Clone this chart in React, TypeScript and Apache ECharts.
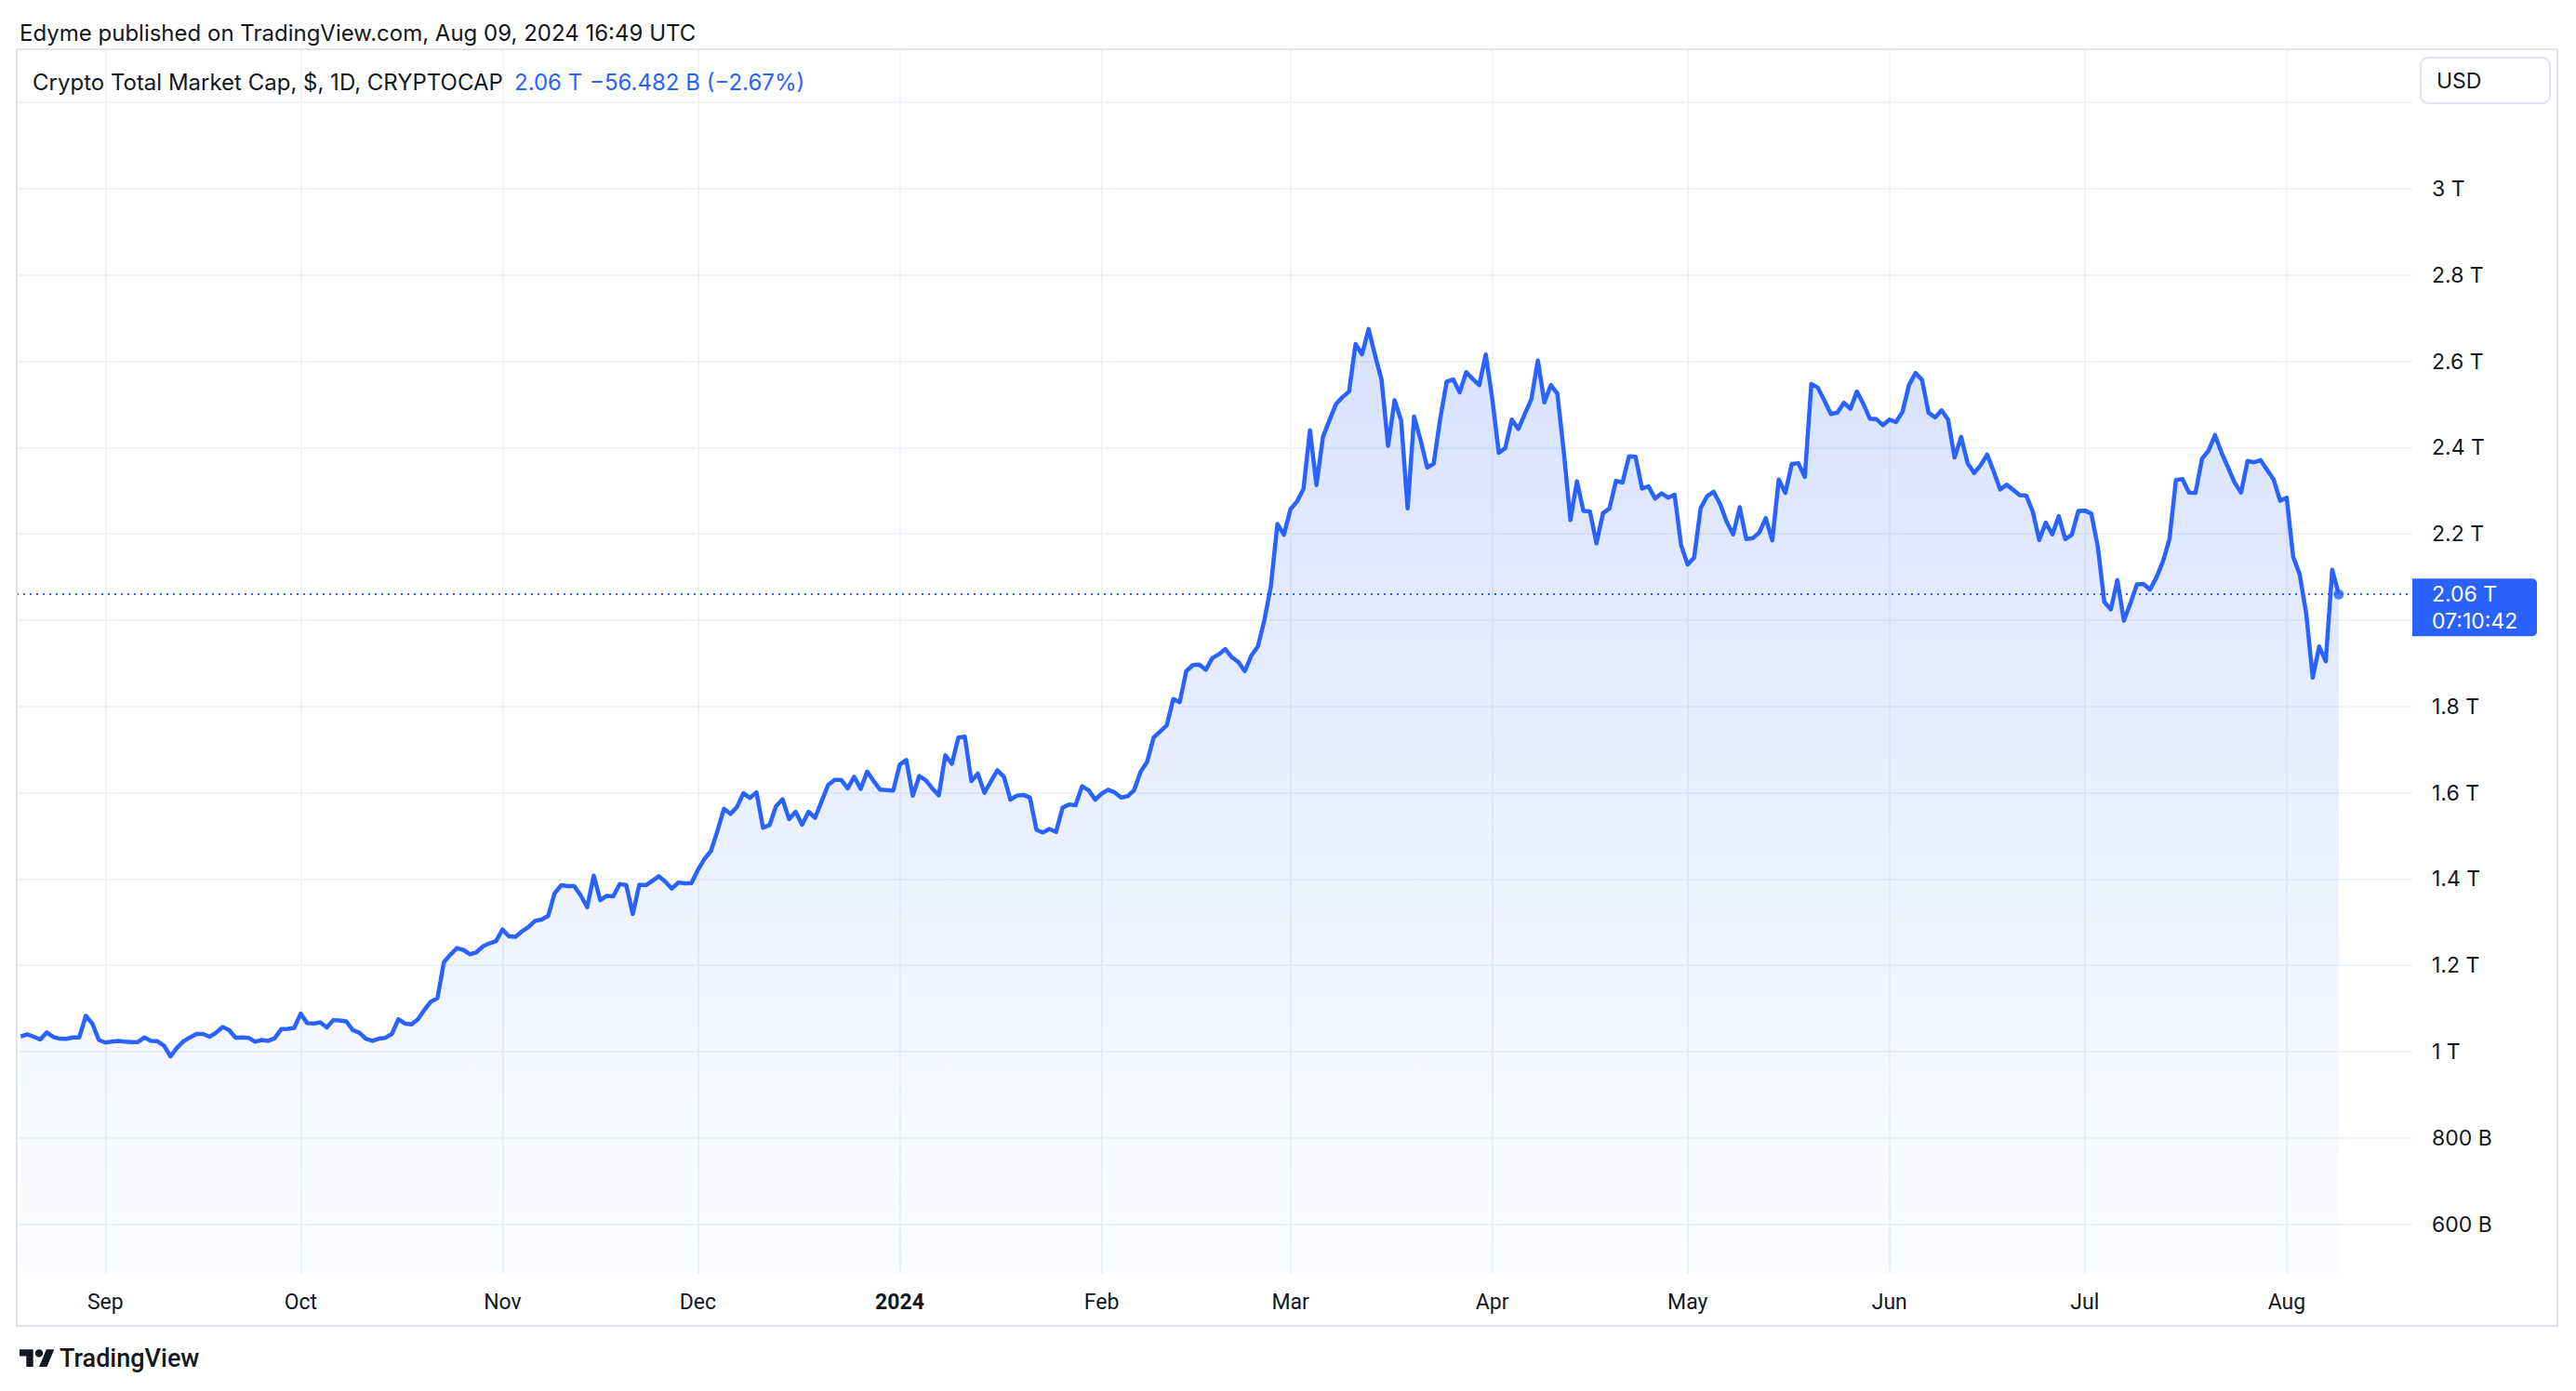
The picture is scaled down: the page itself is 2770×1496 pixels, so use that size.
import React, { useEffect, useRef } from "react";
import * as echarts from "echarts";

// ---- data (Crypto Total Market Cap, daily, in trillions USD) ----
const FIRST_DAY = "2023-08-19";
const aug2023 = [1.035, 1.04, 1.0345, 1.028, 1.0445, 1.034, 1.03, 1.0295, 1.033, 1.033, 1.083, 1.065, 1.027];
const sep2023 = [1.021, 1.023, 1.025, 1.023, 1.022, 1.022, 1.033, 1.025, 1.024, 1.014, 0.989, 1.009, 1.024, 1.033, 1.041, 1.041, 1.0345, 1.044, 1.057, 1.05, 1.032, 1.033, 1.032, 1.023, 1.027, 1.025, 1.031, 1.052, 1.053, 1.055];
const oct2023 = [1.088, 1.066, 1.065, 1.068, 1.056, 1.073, 1.072, 1.07, 1.05, 1.044, 1.03, 1.025, 1.03, 1.032, 1.041, 1.075, 1.065, 1.063, 1.075, 1.097, 1.116, 1.124, 1.2075, 1.225, 1.24, 1.2355, 1.2254, 1.2305, 1.244, 1.251, 1.2563];
const nov2023 = [1.283, 1.267, 1.266, 1.279, 1.289, 1.303, 1.306, 1.3145, 1.367, 1.3856, 1.3835, 1.3835, 1.362, 1.3346, 1.408, 1.351, 1.361, 1.36, 1.3885, 1.386, 1.319, 1.387, 1.3856, 1.3957, 1.4065, 1.394, 1.378, 1.392, 1.39, 1.3907];
const dec2023 = [1.421, 1.4463, 1.465, 1.5116, 1.563, 1.551, 1.567, 1.599, 1.588, 1.601, 1.519, 1.525, 1.569, 1.585, 1.539, 1.556, 1.526, 1.556, 1.542, 1.58, 1.618, 1.63, 1.63, 1.61, 1.637, 1.609, 1.649, 1.627, 1.607, 1.606, 1.605];
const jan2024 = [1.665, 1.676, 1.593, 1.639, 1.629, 1.61, 1.594, 1.687, 1.667, 1.728, 1.73, 1.627, 1.6445, 1.6, 1.6265, 1.652, 1.637, 1.584, 1.5935, 1.595, 1.5885, 1.514, 1.508, 1.516, 1.509, 1.565, 1.573, 1.571, 1.615, 1.606, 1.584];
const feb2024 = [1.598, 1.607, 1.601, 1.589, 1.592, 1.606, 1.649, 1.672, 1.728, 1.742, 1.756, 1.817, 1.81, 1.882, 1.896, 1.897, 1.885, 1.912, 1.921, 1.933, 1.914, 1.903, 1.882, 1.918, 1.939, 2.0, 2.079, 2.223, 2.198];
const mar2024 = [2.257, 2.275, 2.304, 2.44, 2.313, 2.425, 2.4635, 2.501, 2.517, 2.53, 2.64, 2.616, 2.675, 2.614, 2.557, 2.404, 2.51, 2.4635, 2.259, 2.472, 2.417, 2.354, 2.363, 2.467, 2.553, 2.558, 2.528, 2.575, 2.559, 2.545, 2.616];
const apr2024 = [2.513, 2.388, 2.399, 2.465, 2.443, 2.478, 2.512, 2.602, 2.505, 2.545, 2.525, 2.388, 2.232, 2.322, 2.253, 2.252, 2.178, 2.248, 2.259, 2.323, 2.319, 2.38, 2.379, 2.305, 2.31, 2.282, 2.294, 2.284, 2.291, 2.174];
const may2024 = [2.129, 2.145, 2.26, 2.2875, 2.2975, 2.269, 2.228, 2.199, 2.262, 2.188, 2.19, 2.203, 2.2365, 2.185, 2.326, 2.295, 2.362, 2.364, 2.332, 2.5476, 2.539, 2.509, 2.478, 2.481, 2.504, 2.49, 2.53, 2.501, 2.467, 2.466, 2.452];
const jun2024 = [2.465, 2.459, 2.483, 2.545, 2.573, 2.557, 2.481, 2.47, 2.4865, 2.465, 2.377, 2.425, 2.364, 2.341, 2.359, 2.384, 2.345, 2.303, 2.314, 2.302, 2.29, 2.289, 2.252, 2.186, 2.226, 2.199, 2.241, 2.188, 2.198, 2.253];
const jul2024 = [2.254, 2.247, 2.17, 2.042, 2.025, 2.093, 1.999, 2.039, 2.083, 2.084, 2.071, 2.099, 2.136, 2.188, 2.325, 2.327, 2.296, 2.295, 2.374, 2.393, 2.429, 2.388, 2.354, 2.319, 2.296, 2.369, 2.366, 2.371, 2.348, 2.326, 2.277];
const aug2024 = [2.284, 2.147, 2.106, 2.016, 1.867, 1.939, 1.905, 2.117, 2.06];

const priceTicks = [0.6, 0.8, 1.0, 1.2, 1.4, 1.6, 1.8, 2.0, 2.2, 2.4, 2.6, 2.8, 3.0, 3.2];
const priceLabels = [0.6, 0.8, 1.0, 1.2, 1.4, 1.6, 1.8, 2.2, 2.4, 2.6, 2.8, 3.0];
const monthTicks = ["2023-09-01", "2023-10-01", "2023-11-01", "2023-12-01", "2024-01-01", "2024-02-01", "2024-03-01", "2024-04-01", "2024-05-01", "2024-06-01", "2024-07-01", "2024-08-01"];
const monthNames = ["Jan", "Feb", "Mar", "Apr", "May", "Jun", "Jul", "Aug", "Sep", "Oct", "Nov", "Dec"];

const headerText = "Edyme published on TradingView.com, Aug 09, 2024 16:49 UTC";
const symbolTitle = "Crypto Total Market Cap, $, 1D, CRYPTOCAP";
const lastPriceText = "2.06 T";
const changeText = "\u221256.482 B (\u22122.67%)";
const countdownText = "07:10:42";
const currencyText = "USD";

const TV_LOGO = "M14 22H7V11H0V4h14v18zM28 22h-8l7.5-18h8L28 22z";

const BLUE = "#2962ff";
const INK = "#131722";
const GRID = "#f0f3fa";
const BORDER = "#e0e3eb";

export default function App() {
  const ref = useRef<HTMLDivElement>(null);

  useEffect(() => {
    if (!ref.current) return;
    try {
      echarts.graphic.registerShape("tvlogo", echarts.graphic.extendPath(TV_LOGO, {}) as any);
    } catch (e) {}
    const chart = echarts.init(ref.current, undefined, { renderer: "svg" });
    const DAY = 86400000;
    const first = Date.parse(FIRST_DAY + "T00:00:00Z");
    const daily = [
      ...aug2023, ...sep2023, ...oct2023, ...nov2023, ...dec2023, ...jan2024,
      ...feb2024, ...mar2024, ...apr2024, ...may2024, ...jun2024, ...jul2024, ...aug2024,
    ];
    const points = daily.map((v, i) => [first + i * DAY, v]);
    const last = points[points.length - 1];
    const sep1 = Date.parse(monthTicks[0] + "T00:00:00Z");
    const xMin = sep1 - 13.61 * DAY;
    const xMax = sep1 + 354.3 * DAY;
    const monthTs = monthTicks.map((s) => Date.parse(s + "T00:00:00Z"));

    const fmtPrice = (v: number) =>
      v >= 1 ? `${parseFloat(v.toFixed(1))} T` : `${Math.round(v * 1000)} B`;

    chart.setOption({
      animation: false,
      backgroundColor: "#ffffff",
      textStyle: { fontFamily: "Roboto, 'Noto Sans', sans-serif" },
      grid: {
        left: 18,
        right: 176,
        top: 53,
        bottom: 126,
        containLabel: false,
        outerBoundsMode: "none",
      },
      xAxis: {
        type: "value",
        min: xMin,
        max: xMax,
        axisLine: { show: false },
        axisTick: { show: false, customValues: monthTs },
        splitLine: { show: true, lineStyle: { color: GRID, width: 2 } },
        axisLabel: {
          customValues: monthTs,
          margin: 19,
          fontSize: 23,
          color: INK,
          fontFamily: "Roboto",
          formatter: (val: number) => {
            const d = new Date(val);
            const m = d.getUTCMonth();
            if (m === 0) return `{y|${d.getUTCFullYear()}}`;
            return monthNames[m];
          },
          rich: {
            y: { fontSize: 23, fontWeight: "bold", color: INK, fontFamily: "Roboto" },
          },
        },
      },
      yAxis: {
        type: "value",
        position: "right",
        min: 0.4849,
        max: 3.3233,
        axisLine: { show: false },
        axisTick: { show: false, customValues: priceTicks },
        splitLine: { show: true, lineStyle: { color: GRID, width: 2 } },
        axisLabel: {
          customValues: priceLabels,
          margin: 21,
          fontSize: 23,
          color: INK,
          fontFamily: "Inter",
          formatter: (v: number) => fmtPrice(v),
        },
      },
      series: [
        {
          type: "line",
          data: points,
          showSymbol: false,
          symbol: "none",
          lineStyle: { color: BLUE, width: 4.5, join: "round" },
          itemStyle: { color: BLUE },
          areaStyle: {
            color: new echarts.graphic.LinearGradient(0, 0, 0, 1, [
              { offset: 0, color: "rgba(41,98,255,0.26)" },
              { offset: 1, color: "rgba(41,98,255,0.02)" },
            ]),
          },
          markLine: {
            silent: true,
            symbol: ["none", "none"],
            label: { show: false },
            lineStyle: { color: BLUE, type: [2, 5], width: 2 },
            data: [{ yAxis: last[1] }],
          },
          z: 3,
        },
        {
          type: "scatter",
          data: [last],
          symbol: "circle",
          symbolSize: 11,
          itemStyle: { color: BLUE },
          silent: true,
          z: 5,
        },
      ],
    });

    const py = chart.convertToPixel({ yAxisIndex: 0 }, last[1]) as number;
    const rightEdge = chart.convertToPixel({ xAxisIndex: 0 }, xMax) as number;

    chart.setOption({
      graphic: [
        {
          type: "rect",
          shape: { x: 18, y: 53, width: 2732, height: 1373 },
          style: { fill: "none", stroke: BORDER, lineWidth: 2 },
          silent: true,
          z: 10,
        },
        {
          type: "text",
          x: 21,
          y: 35,
          style: { text: headerText, fill: INK, fontSize: 24, fontFamily: "Inter", verticalAlign: "middle", align: "left" },
          z: 10,
        },
        {
          type: "text",
          x: 35,
          y: 88,
          style: { text: symbolTitle, fill: INK, fontSize: 24, fontFamily: "Inter", verticalAlign: "middle", align: "left" },
          z: 10,
        },
        {
          type: "text",
          x: 553,
          y: 88,
          style: { text: lastPriceText, fill: BLUE, fontSize: 24, fontFamily: "Inter", verticalAlign: "middle", align: "left" },
          z: 10,
        },
        {
          type: "text",
          x: 634,
          y: 88,
          style: { text: changeText, fill: BLUE, fontSize: 24, fontFamily: "Inter", verticalAlign: "middle", align: "left" },
          z: 10,
        },
        {
          type: "rect",
          shape: { x: 2603, y: 62, width: 139, height: 49, r: 8 },
          style: { fill: "#ffffff", stroke: BORDER, lineWidth: 2 },
          z: 10,
        },
        {
          type: "text",
          x: 2620,
          y: 87,
          style: { text: currencyText, fill: INK, fontSize: 23, fontFamily: "Inter", verticalAlign: "middle", align: "left" },
          z: 11,
        },
        {
          type: "rect",
          shape: { x: rightEdge, y: py - 17, width: 134, height: 62, r: [0, 5, 5, 0] },
          style: { fill: BLUE },
          z: 10,
        },
        {
          type: "text",
          x: rightEdge + 21,
          y: py,
          style: { text: lastPriceText, fill: "#ffffff", fontSize: 23, fontFamily: "Inter", verticalAlign: "middle", align: "left" },
          z: 11,
        },
        {
          type: "text",
          x: rightEdge + 21,
          y: py + 29,
          style: { text: countdownText, fill: "#ffffff", fontSize: 23, fontFamily: "Inter", verticalAlign: "middle", align: "left" },
          z: 11,
        },
        {
          type: "tvlogo",
          x: 21,
          y: 1447,
          scaleX: 1.05,
          scaleY: 1.05,
          style: { fill: INK },
          z: 10,
        },
        {
          type: "circle",
          shape: { cx: 21 + 20 * 1.05, cy: 1447 + 8 * 1.05, r: 4 * 1.05 },
          style: { fill: INK },
          z: 10,
        },
        {
          type: "text",
          x: 64,
          y: 1461,
          style: { text: "TradingView", fill: INK, fontSize: 27, fontWeight: 500, fontFamily: "Roboto", verticalAlign: "middle", align: "left" },
          z: 10,
        },
      ],
    });

    return () => {
      chart.dispose();
    };
  }, []);

  return (
    <div
      ref={ref}
      style={{ position: "fixed", left: 0, top: 0, width: 2770, height: 1496, background: "#ffffff" }}
    />
  );
}
